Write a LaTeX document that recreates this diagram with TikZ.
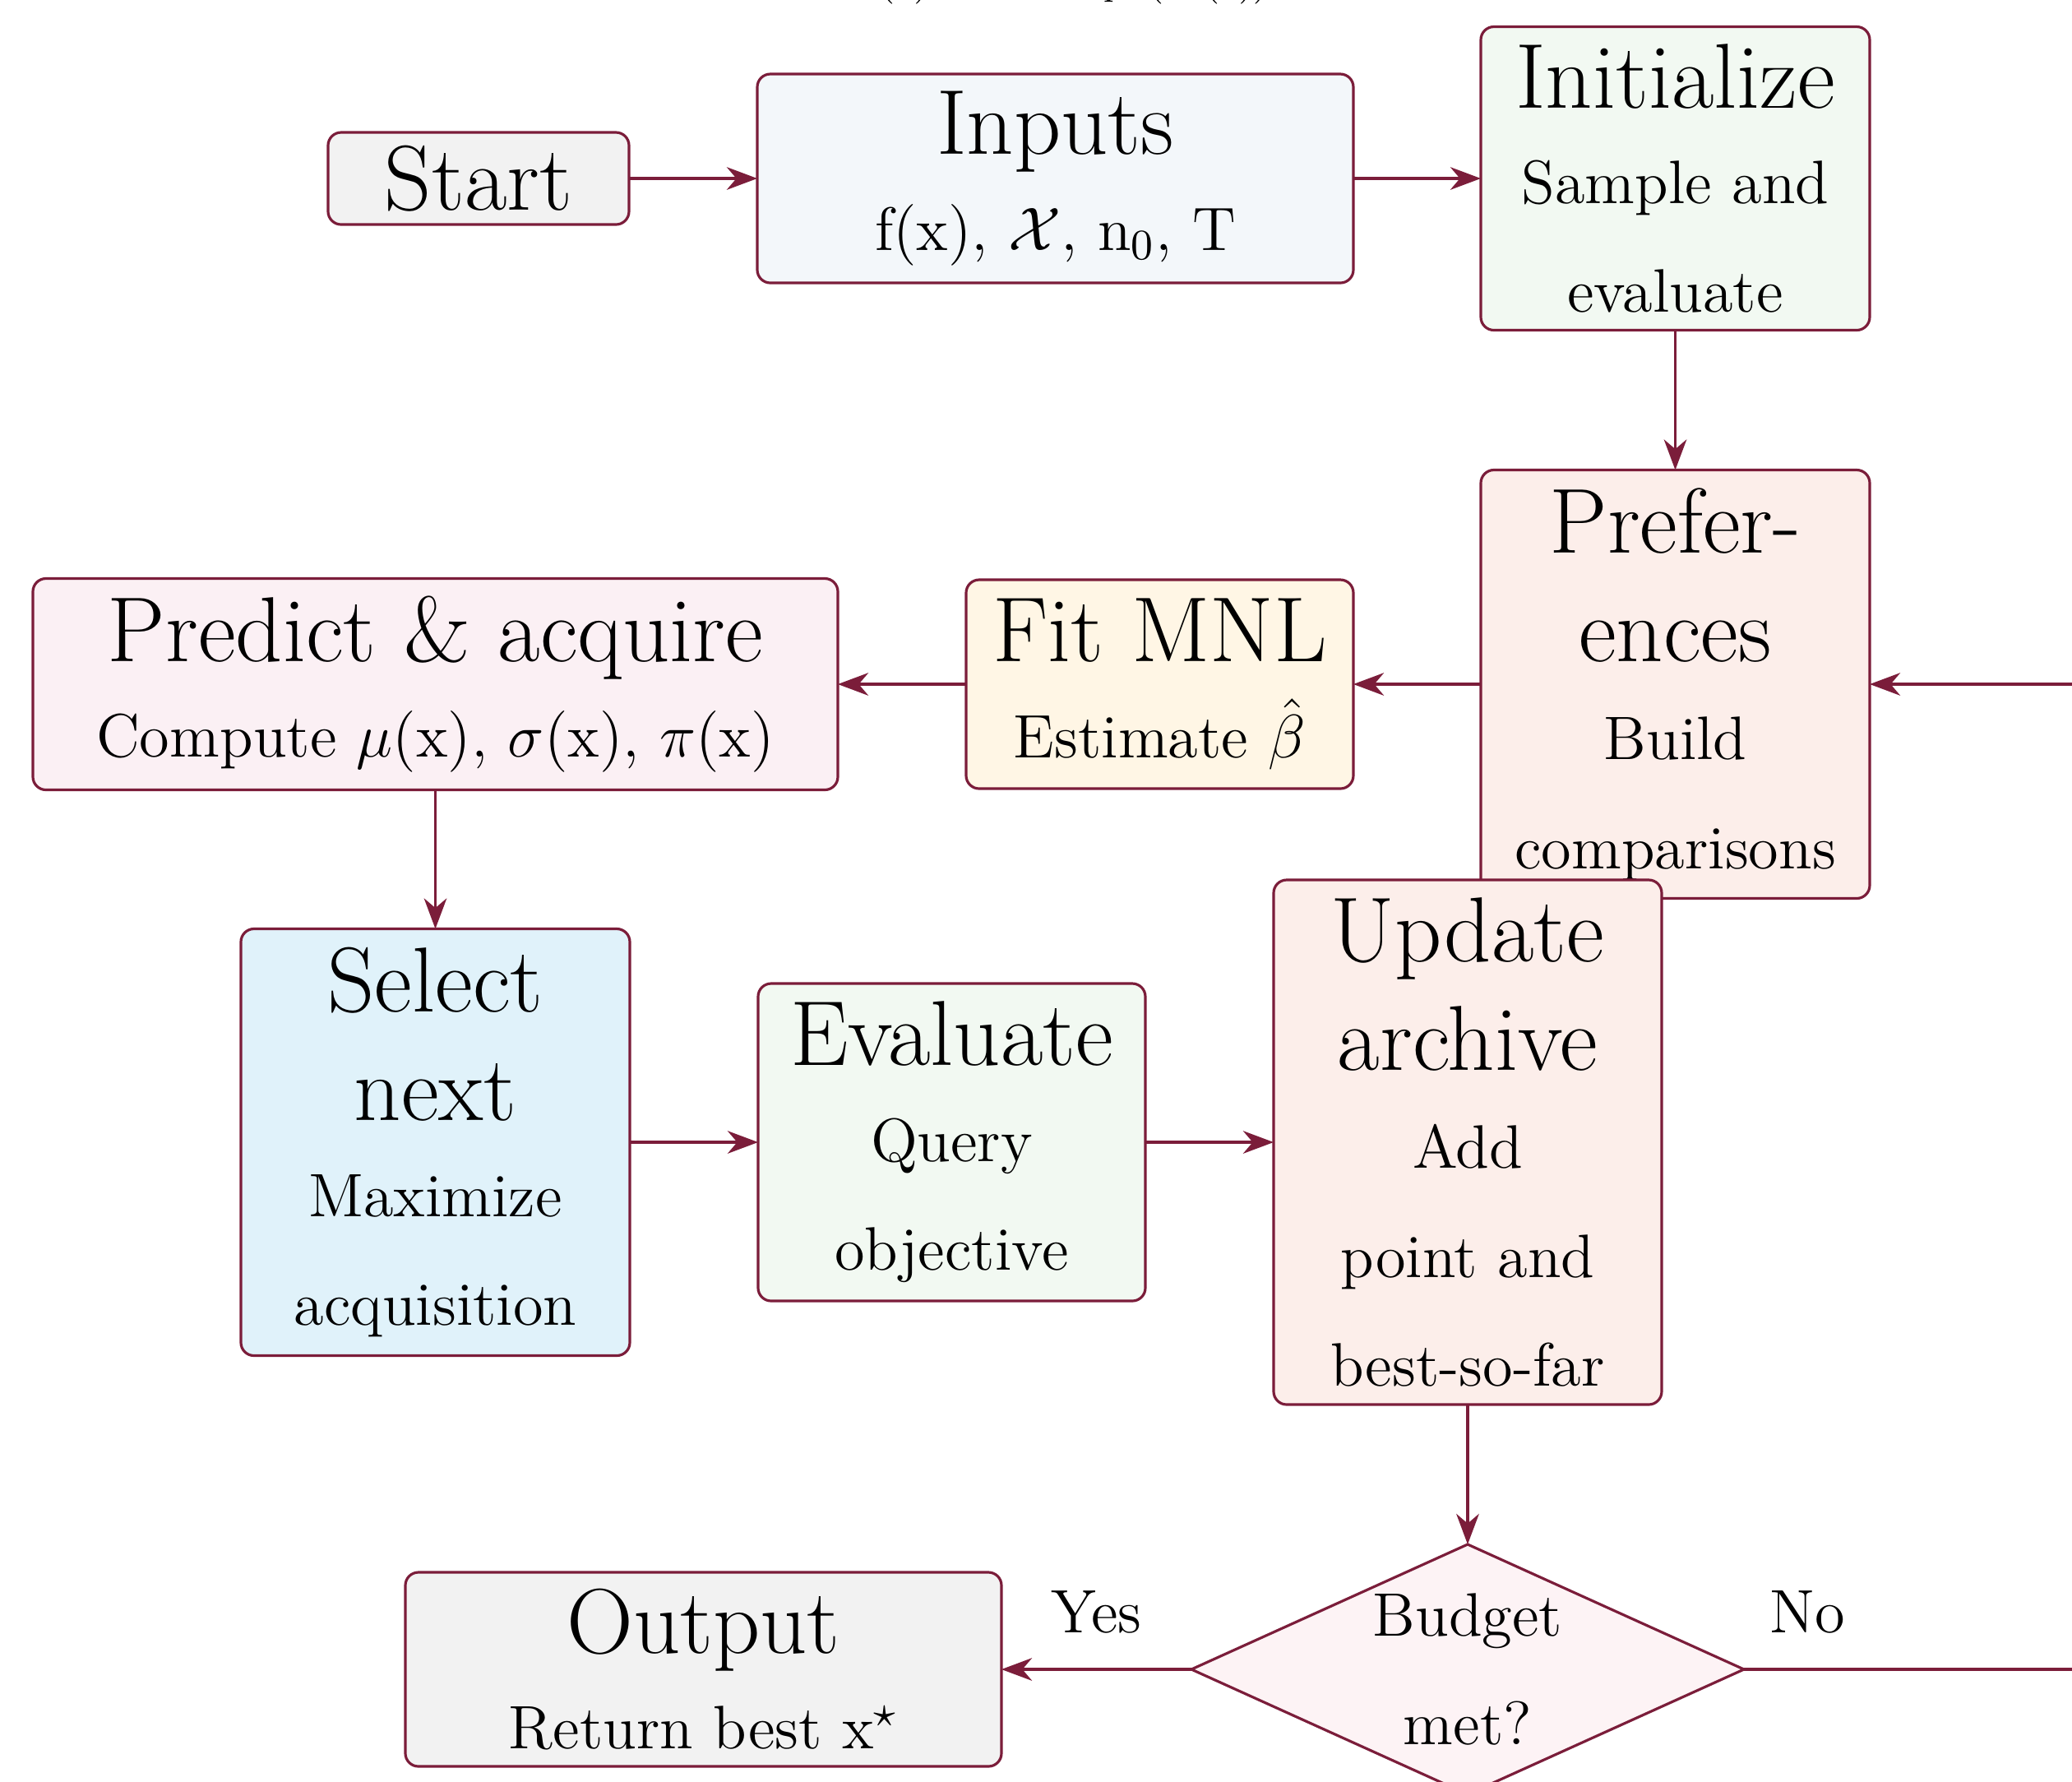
\documentclass[tikz,border=0pt]{standalone}
\usepackage{fix-cm}
\usepackage{xcolor}
\usepackage{tikz}
\usetikzlibrary{positioning,arrows.meta,shapes.geometric}
\usepackage{amsmath}
\usepackage{amssymb}

\definecolor{wine}{HTML}{7B1D3A}
\definecolor{startgray}{HTML}{F2F2F2}
\definecolor{inputsblue}{HTML}{F3F7FA}
\definecolor{initgreen}{HTML}{F2F9F2}
\definecolor{prefpeach}{HTML}{FCEEEA}
\definecolor{fitcream}{HTML}{FFF6E5}
\definecolor{predictpink}{HTML}{FBF0F4}
\definecolor{selectblue}{HTML}{E0F2FA}
\definecolor{budgetpink}{HTML}{FDF3F5}

\newlength{\bu}
\setlength{\bu}{0.664cm}
\newcommand{\titlesize}{\fontsize{21.2}{25}\selectfont}
\newcommand{\bodysize}{\fontsize{14.1}{17}\selectfont}

\begin{document}
\begin{tikzpicture}[x=\bu, y=\bu,
    box/.style={draw=wine, line width=0.6pt, rounded corners=3pt, align=center, font=\titlesize, inner sep=0pt, outer sep=0pt},
    flow/.style={draw=wine, line width=0.7pt, -{Stealth[length=7pt,width=5.2pt,inset=2.2pt]}},
    lbl/.style={font=\bodysize, above=4.5pt}]
\useasboundingbox (0,0) rectangle (25.2,-21.66);
\clip (0,0) rectangle (25.2,-21.66);

% Formula (cut at the top)
\node[font=\footnotesize, anchor=base west, inner sep=0pt] (formula) at (10.42,0.06)
    {$\pi(\mathrm{x})$ via MNL\enspace $\mathrm{p}_{\mathrm{t}}\;(\hat{\mathrm{u}}_{\mathrm{t}}\,(\mathrm{x}))$};

% Nodes
\node[box, fill=startgray, minimum width=3.66\bu, minimum height=1.12\bu] (start) at (5.82,-2.17) {Start};
\node[box, fill=inputsblue, minimum width=7.25\bu, minimum height=2.54\bu, right=1.56\bu of start] (inputs)
    {Inputs\\[-3pt]{\bodysize f(x), $\mathcal{X}$, n$_0$, T}};
\node[box, fill=initgreen, minimum width=4.73\bu, minimum height=3.69\bu, right=1.55\bu of inputs] (init)
    {Initialize\\[-3pt]{\bodysize Sample and}\\{\bodysize evaluate}};
\node[box, fill=prefpeach, minimum width=4.73\bu, minimum height=5.21\bu, below=1.70\bu of init] (pref)
    {Prefer-\\ences\\[-2.5pt]{\bodysize Build}\\{\bodysize comparisons}};
\node[box, fill=fitcream, minimum width=4.71\bu, minimum height=2.54\bu, left=1.55\bu of pref] (fit)
    {Fit MNL\\[-3pt]{\bodysize Estimate $\hat{\beta}$}};
\node[box, fill=predictpink, minimum width=9.79\bu, minimum height=2.57\bu, left=1.56\bu of fit] (predict)
    {Predict \& acquire\\[-3pt]{\bodysize Compute $\mu$(x), $\sigma$(x), $\pi$(x)}};
\node[box, fill=selectblue, minimum width=4.73\bu, minimum height=5.19\bu, below=1.69\bu of predict] (select)
    {Select\\next\\[-3pt]{\bodysize Maximize}\\{\bodysize acquisition}};
\node[box, fill=initgreen, minimum width=4.71\bu, minimum height=3.86\bu, right=1.56\bu of select] (eval)
    {Evaluate\\[-3pt]{\bodysize Query}\\{\bodysize objective}};
\node[box, fill=prefpeach, minimum width=4.72\bu, minimum height=6.38\bu, right=1.56\bu of eval] (update)
    {Update\\archive\\[-2.5pt]{\bodysize Add}\\{\bodysize point and}\\{\bodysize best-so-far}};
\node[box, diamond, rounded corners=0pt, aspect=2.2, fill=budgetpink, minimum width=6.72\bu, minimum height=3.04\bu,
    below=1.70\bu of update] (budget)
    {{\bodysize Budget}\\{\bodysize met?}};
\node[box, fill=startgray, minimum width=7.25\bu, minimum height=2.36\bu, left=2.31\bu of budget] (output)
    {Output\\[-3pt]{\bodysize Return best x$^\star$}};

% Arrows
\draw[flow] (start) -- (inputs);
\draw[flow] (inputs) -- (init);
\draw[flow] (init) -- (pref);
\draw[flow] (pref) -- (fit);
\draw[flow] (fit) -- (predict);
\draw[flow] (predict) -- (select);
\draw[flow] (select) -- (eval);
\draw[flow] (eval) -- (update);
\draw[flow] (update) -- (budget);
\draw[flow] (budget) -- node[lbl] {Yes} (output);
\draw[flow] (budget.east) -- node[lbl, pos=0.154] {No} ++(5,0) |- (pref.east);
\end{tikzpicture}
\end{document}
